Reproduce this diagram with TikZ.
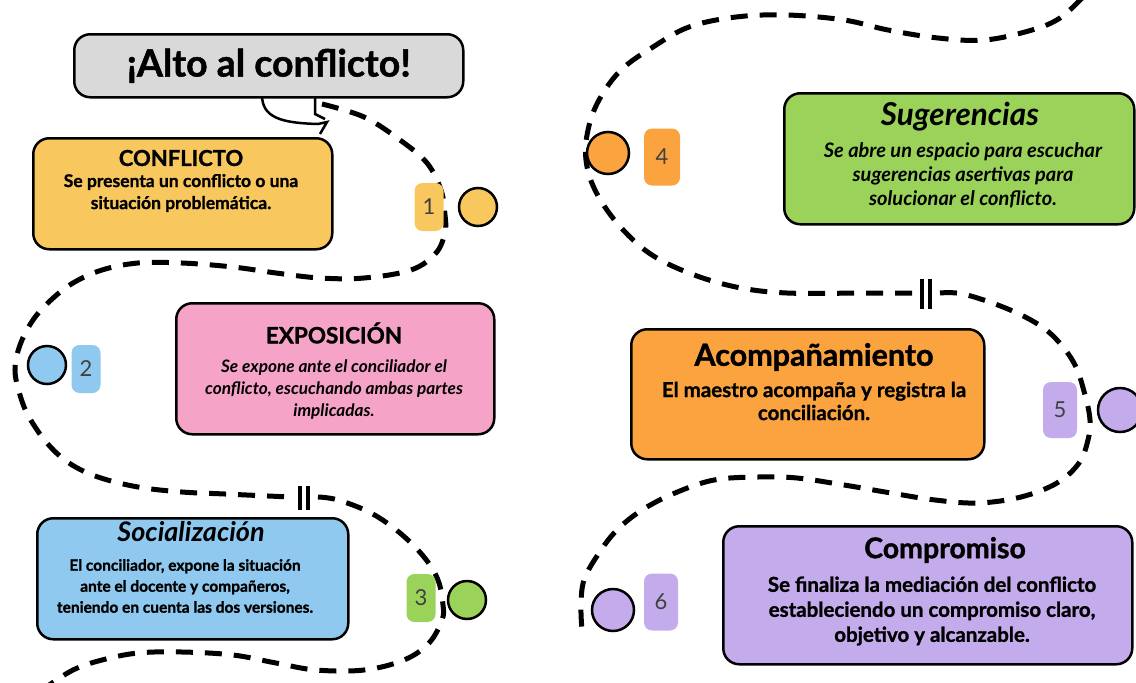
\documentclass[tikz,border=0pt]{standalone}
\usepackage{fontspec}
\setmainfont{Lato}[BoldFeatures={FakeBold=1.2}]
\usetikzlibrary{positioning}

\definecolor{grisT}{HTML}{D9D9D9}
\definecolor{amaT}{HTML}{F8C85E}
\definecolor{rosaT}{HTML}{F5A3C7}
\definecolor{azulT}{HTML}{8FC9EF}
\definecolor{verdeT}{HTML}{9BD35A}
\definecolor{naraT}{HTML}{FBA33F}
\definecolor{moraT}{HTML}{C4ABEC}

\tikzset{
  caja/.style={draw=black,line width=2.5pt,rounded corners=16pt,anchor=north west,inner sep=0pt},
  etiq/.style={rounded corners=8pt,minimum width=29pt,minimum height=48pt,inner sep=0pt,
    text=black!75,font=\fontsize{22}{22}\selectfont},
  bola/.style={circle,draw=black,line width=2.5pt,minimum size=38pt,inner sep=0pt},
  tit/.style={font=\bfseries\fontsize{#1}{#1}\selectfont},
  cuerpo/.style 2 args={align=center,font=\bfseries\fontsize{#1}{#2}\selectfont},
  camino/.style={line width=5pt,dash pattern=on 17pt off 12pt},
  corte/.style={line width=4.5pt}
}

\begin{document}
\begin{tikzpicture}[x=1pt,y=-1pt]
  \useasboundingbox (0,0) rectangle (1136,683);

  % el camino punteado
  \draw[camino] plot[smooth,tension=.6] coordinates {(322,104) (364,117) (400,140) (427,163) (441,190)
    (445,215) (445,232) (436,253) (411,270) (364,278) (320,278) (276,273) (233,267) (182,263) (138,263)
    (102,270) (73,283) (51,300) (33,320) (20,345) (15,370) (20,395) (29,417) (47,443) (69,463) (98,477)
    (138,487) (182,492) (225,494) (290,497)};
  \draw[camino] plot[smooth,tension=.6] coordinates {(318,497) (338,500) (371,513) (400,533) (424,557)
    (438,580) (443,605) (442,620) (429,643) (404,660) (364,670) (316,670) (276,663) (233,655) (182,652)
    (138,653) (102,660) (73,670) (45,688)};
  \draw[camino] plot[smooth,tension=.6] coordinates {(1082,-2) (1060,18) (1032,30) (985,40) (938,38)
    (888,30) (844,20) (787,15) (736,17) (689,27) (653,47) (621,70) (599,100) (588,130) (586,160)
    (595,190) (617,223) (649,253) (689,273) (736,287) (787,293) (866,293) (912,293)};
  \draw[camino] plot[smooth,tension=.6] coordinates {(940,293) (963,294) (1003,307) (1036,323)
    (1057,340) (1075,365) (1085,395) (1090,420) (1088,440) (1079,463) (1057,483) (1021,497) (978,503)
    (935,500) (891,493) (844,485) (797,478) (758,477) (714,480) (675,493) (642,510) (617,530)
    (599,553) (584,580) (581,607) (582,630)};
  \coordinate (corteA) at (304,498);
  \coordinate (corteB) at (926,294);
  \draw[corte] ([xshift=-4pt,yshift=-12pt]corteA) -- ([xshift=-4pt,yshift=12pt]corteA);
  \draw[corte] ([xshift=4pt,yshift=-12pt]corteA) -- ([xshift=4pt,yshift=12pt]corteA);
  \draw[corte] ([xshift=-4pt,yshift=-15pt]corteB) -- ([xshift=-4pt,yshift=15pt]corteB);
  \draw[corte] ([xshift=4pt,yshift=-15pt]corteB) -- ([xshift=4pt,yshift=15pt]corteB);

  % titulo con globo
  \draw[line width=2.5pt,fill=white] (262,95) .. controls (262,118) and (282,123) .. (318,124)
    -- (327,122) -- (320,134);
  \draw[line width=2.5pt] (315,95) -- (315,114) -- (325,119);
  \node[caja,fill=grisT,minimum width=389pt,minimum height=63pt] (alto) at (73,33) {};
  \node[font=\bfseries\fontsize{37.5}{37.5}\selectfont] (alto-t) at (alto.center) {¡Alto al conflicto!};

  % pasos
  \node[caja,fill=amaT,minimum width=299pt,minimum height=111pt] (conflicto) at (32,137) {};
  \node[tit=22] (conflicto-t) at (181,158) {CONFLICTO};
  \node[cuerpo={17.5}{22}] (conflicto-b) at (181,193) {Se presenta un conflicto o una\\situación problemática.};

  \node[caja,fill=rosaT,minimum width=318pt,minimum height=131pt] (expo) at (175,302) {};
  \node[tit=22.5] (expo-t) at (334,333) {EXPOSICIÓN};
  \node[cuerpo={17.2}{22}] (expo-b) at (334,390) {\itshape Se expone ante el conciliador el\\\itshape conflicto, escuchando ambas partes\\\itshape implicadas.};

  \node[caja,fill=azulT,minimum width=311pt,minimum height=121pt] (social) at (36,517) {};
  \node[tit=27] (social-t) at (191,532) {\itshape Socialización};
  \node[cuerpo={15.5}{21}] (social-b) at (185,586) {El conciliador, expone la situación\\ante el docente y compañeros,\\teniendo en cuenta las dos versiones.};

  \node[caja,fill=verdeT,minimum width=350pt,minimum height=131pt] (suger) at (783,92) {};
  \node[tit=31.5] (suger-t) at (960,117) {\itshape Sugerencias};
  \node[cuerpo={20}{24}] (suger-b) at (963,175) {\itshape Se abre un espacio para escuchar\\\itshape sugerencias asertivas para\\\itshape solucionar el conflicto.};

  \node[caja,fill=naraT,minimum width=353pt,minimum height=130pt] (acomp) at (630,328) {};
  \node[tit=30.5] (acomp-t) at (814,357) {Acompañamiento};
  \node[cuerpo={20.5}{23}] (acomp-b) at (814,401) {El maestro acompaña y registra la\\conciliación.};

  \node[caja,fill=moraT,minimum width=409pt,minimum height=138pt] (compro) at (722,525) {};
  \node[tit=28.5] (compro-t) at (945,550) {Compromiso};
  \node[cuerpo={20.5}{25}] (compro-b) at (932,611) {Se finaliza la mediación del conflicto\\estableciendo un compromiso claro,\\objetivo y alcanzable.};

  % numeros y bolitas
  \node[etiq,fill=amaT] (t1) at (429,207) {1};
  \node[bola,fill=amaT] (c1) at (478,207) {};
  \node[bola,fill=azulT] (c2) at (47,365) {};
  \node[etiq,fill=azulT] (t2) at (86,369) {2};
  \node[etiq,fill=verdeT] (t3) at (421,598) {3};
  \node[bola,fill=verdeT] (c3) at (467,600) {};
  \node[bola,fill=naraT,minimum size=42pt] (c4) at (608,153) {};
  \node[etiq,fill=naraT,minimum width=36pt,minimum height=57pt] (t4) at (662,157) {4};
  \node[etiq,fill=moraT,minimum width=34pt,minimum height=56pt] (t5) at (1060,410) {5};
  \node[bola,fill=moraT,minimum size=44pt] (c5) at (1120,410) {};
  \node[bola,fill=moraT,minimum size=42pt] (c6) at (613,610) {};
  \node[etiq,fill=moraT,minimum width=34pt,minimum height=57pt] (t6) at (661,602) {6};
\end{tikzpicture}
\end{document}
